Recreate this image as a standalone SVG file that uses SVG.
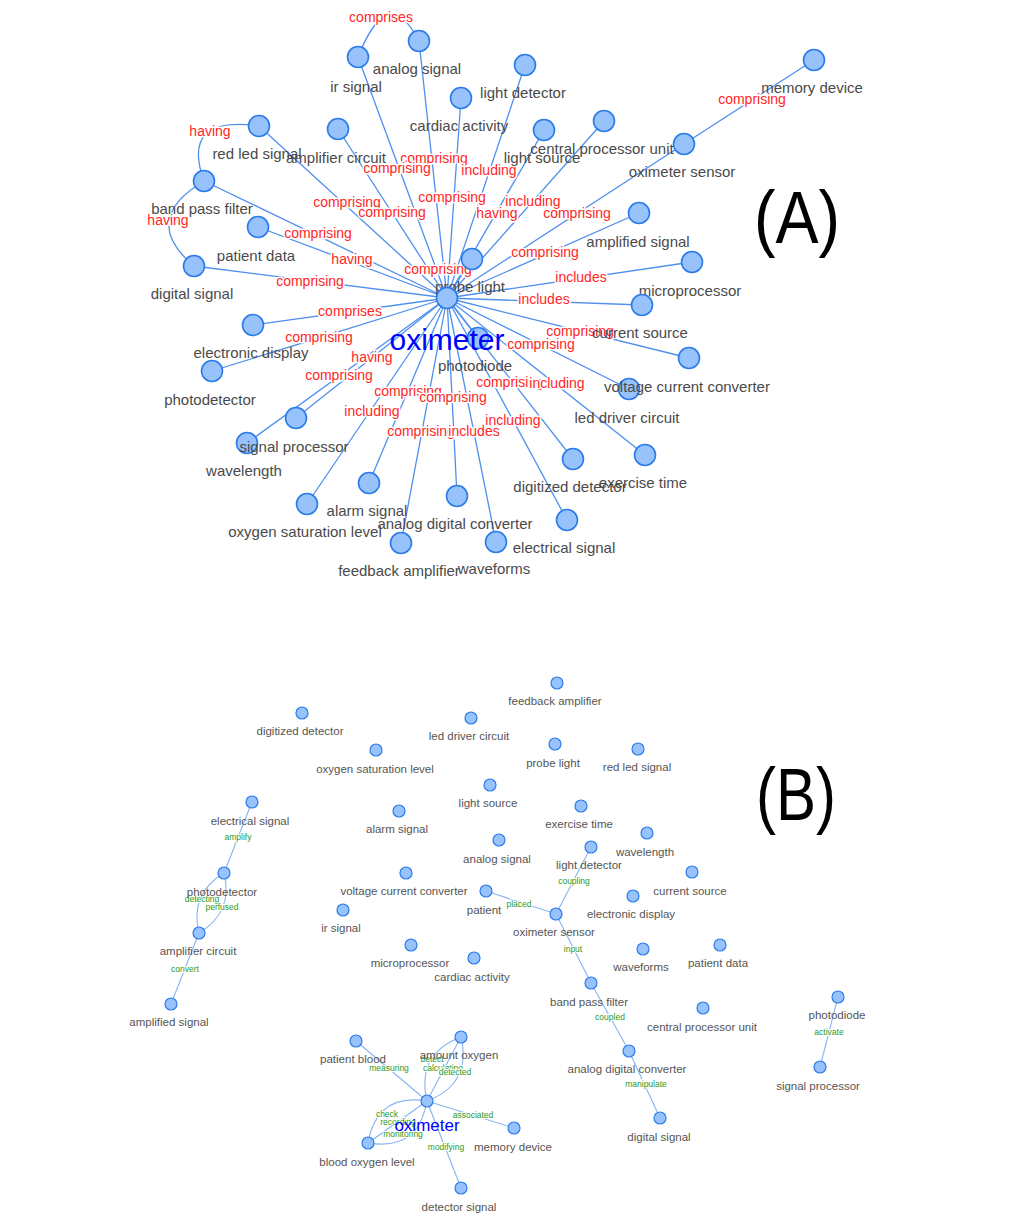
<svg xmlns="http://www.w3.org/2000/svg" width="1024" height="1230" viewBox="0 0 1024 1230">
<style>
.ea{stroke:#4f8fee;stroke-width:1.3;fill:none}
.eb{stroke:#86b4f4;stroke-width:1.1;fill:none}
.n{fill:#97c2fc;stroke:#2b7ce9;stroke-width:1.6}
.nb{fill:#97c2fc;stroke:#2b7ce9;stroke-width:1.2}
text{font-family:"Liberation Sans",Arial,sans-serif;text-anchor:middle}
.la{font-size:15px;fill:#4a4a4a}
.lb{font-size:11.5px;fill:#555555}
.ra{font-size:14px;fill:#ff2626;stroke:#ffffff;stroke-width:3;paint-order:stroke;stroke-linejoin:round}
.gb{font-size:8.5px;fill:#2a9a2a;stroke:#ffffff;stroke-width:2;paint-order:stroke;stroke-linejoin:round}
.hubA{font-size:30px;fill:#0000ff}
.hubB{font-size:17px;fill:#0000ff}
.tag{font-size:74px;fill:#000000}
</style>
<rect width="1024" height="1230" fill="#ffffff"/>

<!-- Panel A connectors -->
<g id="connectors-a">
<g class="ea">
<line x1="447" y1="298" x2="358" y2="57"/>
<line x1="447" y1="298" x2="419" y2="41"/>
<line x1="447" y1="298" x2="525" y2="65"/>
<line x1="447" y1="298" x2="461" y2="98"/>
<line x1="447" y1="298" x2="259" y2="126"/>
<line x1="447" y1="298" x2="338" y2="129"/>
<line x1="447" y1="298" x2="604" y2="121"/>
<line x1="447" y1="298" x2="544" y2="130"/>
<line x1="447" y1="298" x2="684" y2="144"/>
<line x1="447" y1="298" x2="204" y2="181"/>
<line x1="447" y1="298" x2="258" y2="227"/>
<line x1="447" y1="298" x2="639" y2="213"/>
<line x1="447" y1="298" x2="194" y2="266"/>
<line x1="447" y1="298" x2="472" y2="259"/>
<line x1="447" y1="298" x2="692" y2="262"/>
<line x1="447" y1="298" x2="253" y2="325"/>
<line x1="447" y1="298" x2="642" y2="305"/>
<line x1="447" y1="298" x2="478" y2="338"/>
<line x1="447" y1="298" x2="212" y2="371"/>
<line x1="447" y1="298" x2="689" y2="358"/>
<line x1="447" y1="298" x2="629" y2="389"/>
<line x1="447" y1="298" x2="296" y2="418"/>
<line x1="447" y1="298" x2="247" y2="443"/>
<line x1="447" y1="298" x2="573" y2="459"/>
<line x1="447" y1="298" x2="645" y2="455"/>
<line x1="447" y1="298" x2="369" y2="483"/>
<line x1="447" y1="298" x2="457" y2="496"/>
<line x1="447" y1="298" x2="307" y2="504"/>
<line x1="447" y1="298" x2="567" y2="520"/>
<line x1="447" y1="298" x2="401" y2="543"/>
<line x1="447" y1="298" x2="496" y2="542"/>
<line x1="684" y1="144" x2="814" y2="60"/>
<path d="M358,57 Q388,-19 419,41"/>
<path d="M259,126 Q180,115 204,181"/>
<path d="M204,181 Q139,220 194,266"/>
</g>
<g class="ra">
<text x="381" y="22">comprises</text>
<text x="752" y="104">comprising</text>
<text x="210" y="136">having</text>
<text x="168" y="225">having</text>
<text x="434" y="163">comprising</text>
<text x="397" y="173">comprising</text>
<text x="489" y="175">including</text>
<text x="347" y="207">comprising</text>
<text x="392" y="217">comprising</text>
<text x="452" y="202">comprising</text>
<text x="497" y="218">having</text>
<text x="533" y="206">including</text>
<text x="577" y="218">comprising</text>
<text x="318" y="238">comprising</text>
<text x="352" y="264">having</text>
<text x="438" y="274">comprising</text>
<text x="545" y="257">comprising</text>
<text x="310" y="286">comprising</text>
<text x="581" y="282">includes</text>
<text x="544" y="304">includes</text>
<text x="350" y="316">comprises</text>
<text x="319" y="342">comprising</text>
<text x="580" y="336">comprising</text>
<text x="541" y="349">comprising</text>
<text x="372" y="362">having</text>
<text x="339" y="380">comprising</text>
<text x="408" y="396">comprising</text>
<text x="453" y="402">comprising</text>
<text x="510" y="387">comprising</text>
<text x="557" y="388">including</text>
<text x="372" y="416">including</text>
<text x="513" y="425">including</text>
<text x="421" y="436">comprising</text>
<text x="474" y="436">includes</text>
</g>
</g>

<!-- Panel A nodes -->
<g id="a-ir-signal"><circle class="n" cx="358" cy="57" r="10.5"/><text class="la" x="356" y="92">ir signal</text></g>
<g id="a-analog-signal"><circle class="n" cx="419" cy="41" r="10.5"/><text class="la" x="417" y="74">analog signal</text></g>
<g id="a-light-detector"><circle class="n" cx="525" cy="65" r="10.5"/><text class="la" x="523" y="98">light detector</text></g>
<g id="a-cardiac-activity"><circle class="n" cx="461" cy="98" r="10.5"/><text class="la" x="459" y="131">cardiac activity</text></g>
<g id="a-memory-device"><circle class="n" cx="814" cy="60" r="10.5"/><text class="la" x="812" y="93">memory device</text></g>
<g id="a-amplifier-circuit"><circle class="n" cx="338" cy="129" r="10.5"/><text class="la" x="336" y="163">amplifier circuit</text></g>
<g id="a-red-led-signal"><circle class="n" cx="259" cy="126" r="10.5"/><text class="la" x="257" y="159">red led signal</text></g>
<g id="a-light-source"><circle class="n" cx="544" cy="130" r="10.5"/><text class="la" x="542" y="163">light source</text></g>
<g id="a-central-processor-unit"><circle class="n" cx="604" cy="121" r="10.5"/><text class="la" x="602" y="154">central processor unit</text></g>
<g id="a-oximeter-sensor"><circle class="n" cx="684" cy="144" r="10.5"/><text class="la" x="682" y="177">oximeter sensor</text></g>
<g id="a-band-pass-filter"><circle class="n" cx="204" cy="181" r="10.5"/><text class="la" x="202" y="214">band pass filter</text></g>
<g id="a-patient-data"><circle class="n" cx="258" cy="227" r="10.5"/><text class="la" x="256" y="261">patient data</text></g>
<g id="a-amplified-signal"><circle class="n" cx="639" cy="213" r="10.5"/><text class="la" x="638" y="247">amplified signal</text></g>
<g id="a-digital-signal"><circle class="n" cx="194" cy="266" r="10.5"/><text class="la" x="192" y="299">digital signal</text></g>
<g id="a-probe-light"><circle class="n" cx="472" cy="259" r="10.5"/><text class="la" x="470" y="292">probe light</text></g>
<g id="a-microprocessor"><circle class="n" cx="692" cy="262" r="10.5"/><text class="la" x="690" y="296">microprocessor</text></g>
<g id="a-electronic-display"><circle class="n" cx="253" cy="325" r="10.5"/><text class="la" x="251" y="358">electronic display</text></g>
<g id="a-current-source"><circle class="n" cx="642" cy="305" r="10.5"/><text class="la" x="640" y="338">current source</text></g>
<g id="a-photodiode"><circle class="n" cx="478" cy="338" r="10.5"/><text class="la" x="475" y="371">photodiode</text></g>
<g id="a-oximeter"><circle class="n" cx="447" cy="298" r="10.5"/><text class="hubA" x="447" y="350">oximeter</text></g>
<g id="a-photodetector"><circle class="n" cx="212" cy="371" r="10.5"/><text class="la" x="210" y="405">photodetector</text></g>
<g id="a-led-driver-circuit"><circle class="n" cx="629" cy="389" r="10.5"/><text class="la" x="627" y="423">led driver circuit</text></g>
<g id="a-voltage-current-converter"><circle class="n" cx="689" cy="358" r="10.5"/><text class="la" x="687" y="392">voltage current converter</text></g>
<g id="a-wavelength"><circle class="n" cx="247" cy="443" r="10.5"/><text class="la" x="244" y="476">wavelength</text></g>
<g id="a-signal-processor"><circle class="n" cx="296" cy="418" r="10.5"/><text class="la" x="294" y="452">signal processor</text></g>
<g id="a-digitized-detector"><circle class="n" cx="573" cy="459" r="10.5"/><text class="la" x="570" y="492">digitized detector</text></g>
<g id="a-exercise-time"><circle class="n" cx="645" cy="455" r="10.5"/><text class="la" x="643" y="488">exercise time</text></g>
<g id="a-alarm-signal"><circle class="n" cx="369" cy="483" r="10.5"/><text class="la" x="367" y="516">alarm signal</text></g>
<g id="a-analog-digital-converter"><circle class="n" cx="457" cy="496" r="10.5"/><text class="la" x="455" y="529">analog digital converter</text></g>
<g id="a-oxygen-saturation-level"><circle class="n" cx="307" cy="504" r="10.5"/><text class="la" x="305" y="537">oxygen saturation level</text></g>
<g id="a-electrical-signal"><circle class="n" cx="567" cy="520" r="10.5"/><text class="la" x="564" y="553">electrical signal</text></g>
<g id="a-feedback-amplifier"><circle class="n" cx="401" cy="543" r="10.5"/><text class="la" x="399" y="576">feedback amplifier</text></g>
<g id="a-waveforms"><circle class="n" cx="496" cy="542" r="10.5"/><text class="la" x="494" y="574">waveforms</text></g>

<text class="tag" x="797" y="243" textLength="86" lengthAdjust="spacingAndGlyphs">(A)</text>

<!-- Panel B connectors -->
<g id="connectors-b">
<g class="eb">
<line x1="252" y1="802" x2="224" y2="873"/>
<path d="M224,873 Q189.3,893.8 199,933"/>
<path d="M224,873 Q233.7,912.2 199,933"/>
<line x1="199" y1="933" x2="171" y2="1004"/>
<line x1="591" y1="847" x2="556" y2="914"/>
<line x1="486" y1="891" x2="556" y2="914"/>
<line x1="556" y1="914" x2="591" y2="983"/>
<line x1="591" y1="983" x2="629" y2="1051"/>
<line x1="629" y1="1051" x2="660" y2="1118"/>
<line x1="838" y1="997" x2="820" y2="1067"/>
<line x1="427" y1="1101" x2="356" y2="1041"/>
<line x1="427" y1="1101" x2="461" y2="1037"/>
<path d="M427,1101 Q416,1054 461,1037"/>
<path d="M427,1101 Q472,1084 461,1037"/>
<line x1="427" y1="1101" x2="514" y2="1128"/>
<line x1="427" y1="1101" x2="368" y2="1143"/>
<path d="M427,1101 Q376.6,1092.7 368,1143"/>
<path d="M427,1101 Q418.4,1151.3 368,1143"/>
<line x1="427" y1="1101" x2="461" y2="1188"/>
</g>
<g class="gb">
<text x="238" y="840">amplify</text>
<text x="202" y="902">detecting</text>
<text x="222" y="910">perfused</text>
<text x="185" y="972">convert</text>
<text x="574" y="884">coupling</text>
<text x="519" y="907">placed</text>
<text x="573" y="952">input</text>
<text x="610" y="1020">coupled</text>
<text x="646" y="1087">manipulate</text>
<text x="829" y="1035">activate</text>
<text x="389" y="1071">measuring</text>
<text x="432" y="1062">detect</text>
<text x="443" y="1071">calculating</text>
<text x="455" y="1075">detected</text>
<text x="473" y="1118">associated</text>
<text x="387" y="1117">check</text>
<text x="398" y="1125">recording</text>
<text x="403" y="1137">monitoring</text>
<text x="446" y="1150">modifying</text>
</g>
</g>

<!-- Panel B nodes -->
<g id="b-feedback-amplifier"><circle class="nb" cx="557" cy="683" r="6"/><text class="lb" x="555" y="705">feedback amplifier</text></g>
<g id="b-digitized-detector"><circle class="nb" cx="302" cy="713" r="6"/><text class="lb" x="300" y="735">digitized detector</text></g>
<g id="b-led-driver-circuit"><circle class="nb" cx="471" cy="718" r="6"/><text class="lb" x="469" y="740">led driver circuit</text></g>
<g id="b-oxygen-saturation-level"><circle class="nb" cx="376" cy="750" r="6"/><text class="lb" x="375" y="773">oxygen saturation level</text></g>
<g id="b-probe-light"><circle class="nb" cx="555" cy="744" r="6"/><text class="lb" x="553" y="767">probe light</text></g>
<g id="b-red-led-signal"><circle class="nb" cx="638" cy="749" r="6"/><text class="lb" x="637" y="771">red led signal</text></g>
<g id="b-light-source"><circle class="nb" cx="490" cy="785" r="6"/><text class="lb" x="488" y="807">light source</text></g>
<g id="b-exercise-time"><circle class="nb" cx="581" cy="806" r="6"/><text class="lb" x="579" y="828">exercise time</text></g>
<g id="b-alarm-signal"><circle class="nb" cx="399" cy="811" r="6"/><text class="lb" x="397" y="833">alarm signal</text></g>
<g id="b-electrical-signal"><circle class="nb" cx="252" cy="802" r="6"/><text class="lb" x="250" y="825">electrical signal</text></g>
<g id="b-analog-signal"><circle class="nb" cx="499" cy="840" r="6"/><text class="lb" x="497" y="863">analog signal</text></g>
<g id="b-wavelength"><circle class="nb" cx="647" cy="833" r="6"/><text class="lb" x="645" y="856">wavelength</text></g>
<g id="b-light-detector"><circle class="nb" cx="591" cy="847" r="6"/><text class="lb" x="589" y="869">light detector</text></g>
<g id="b-current-source"><circle class="nb" cx="692" cy="872" r="6"/><text class="lb" x="690" y="895">current source</text></g>
<g id="b-photodetector"><circle class="nb" cx="224" cy="873" r="6"/><text class="lb" x="222" y="896">photodetector</text></g>
<g id="b-voltage-current-converter"><circle class="nb" cx="406" cy="873" r="6"/><text class="lb" x="404" y="895">voltage current converter</text></g>
<g id="b-patient"><circle class="nb" cx="486" cy="891" r="6"/><text class="lb" x="484" y="914">patient</text></g>
<g id="b-electronic-display"><circle class="nb" cx="633" cy="896" r="6"/><text class="lb" x="631" y="918">electronic display</text></g>
<g id="b-oximeter-sensor"><circle class="nb" cx="556" cy="914" r="6"/><text class="lb" x="554" y="936">oximeter sensor</text></g>
<g id="b-ir-signal"><circle class="nb" cx="343" cy="910" r="6"/><text class="lb" x="341" y="932">ir signal</text></g>
<g id="b-amplifier-circuit"><circle class="nb" cx="199" cy="933" r="6"/><text class="lb" x="198" y="955">amplifier circuit</text></g>
<g id="b-microprocessor"><circle class="nb" cx="411" cy="945" r="6"/><text class="lb" x="410" y="967">microprocessor</text></g>
<g id="b-cardiac-activity"><circle class="nb" cx="474" cy="958" r="6"/><text class="lb" x="472" y="981">cardiac activity</text></g>
<g id="b-waveforms"><circle class="nb" cx="643" cy="949" r="6"/><text class="lb" x="641" y="971">waveforms</text></g>
<g id="b-patient-data"><circle class="nb" cx="720" cy="945" r="6"/><text class="lb" x="718" y="967">patient data</text></g>
<g id="b-band-pass-filter"><circle class="nb" cx="591" cy="983" r="6"/><text class="lb" x="589" y="1006">band pass filter</text></g>
<g id="b-central-processor-unit"><circle class="nb" cx="703" cy="1008" r="6"/><text class="lb" x="702" y="1031">central processor unit</text></g>
<g id="b-photodiode"><circle class="nb" cx="838" cy="997" r="6"/><text class="lb" x="837" y="1019">photodiode</text></g>
<g id="b-amplified-signal"><circle class="nb" cx="171" cy="1004" r="6"/><text class="lb" x="169" y="1026">amplified signal</text></g>
<g id="b-analog-digital-converter"><circle class="nb" cx="629" cy="1051" r="6"/><text class="lb" x="627" y="1073">analog digital converter</text></g>
<g id="b-signal-processor"><circle class="nb" cx="820" cy="1067" r="6"/><text class="lb" x="818" y="1090">signal processor</text></g>
<g id="b-patient-blood"><circle class="nb" cx="356" cy="1041" r="6"/><text class="lb" x="353" y="1063">patient blood</text></g>
<g id="b-amount-oxygen"><circle class="nb" cx="461" cy="1037" r="6"/><text class="lb" x="459" y="1059">amount oxygen</text></g>
<g id="b-memory-device"><circle class="nb" cx="514" cy="1128" r="6"/><text class="lb" x="513" y="1151">memory device</text></g>
<g id="b-blood-oxygen-level"><circle class="nb" cx="368" cy="1143" r="6"/><text class="lb" x="367" y="1166">blood oxygen level</text></g>
<g id="b-digital-signal"><circle class="nb" cx="660" cy="1118" r="6"/><text class="lb" x="659" y="1141">digital signal</text></g>
<g id="b-detector-signal"><circle class="nb" cx="461" cy="1188" r="6"/><text class="lb" x="459" y="1211">detector signal</text></g>
<g id="b-oximeter"><circle class="nb" cx="427" cy="1101" r="6"/><text class="hubB" x="427" y="1131">oximeter</text></g>

<text class="tag" x="796" y="820" textLength="80" lengthAdjust="spacingAndGlyphs">(B)</text>
</svg>
